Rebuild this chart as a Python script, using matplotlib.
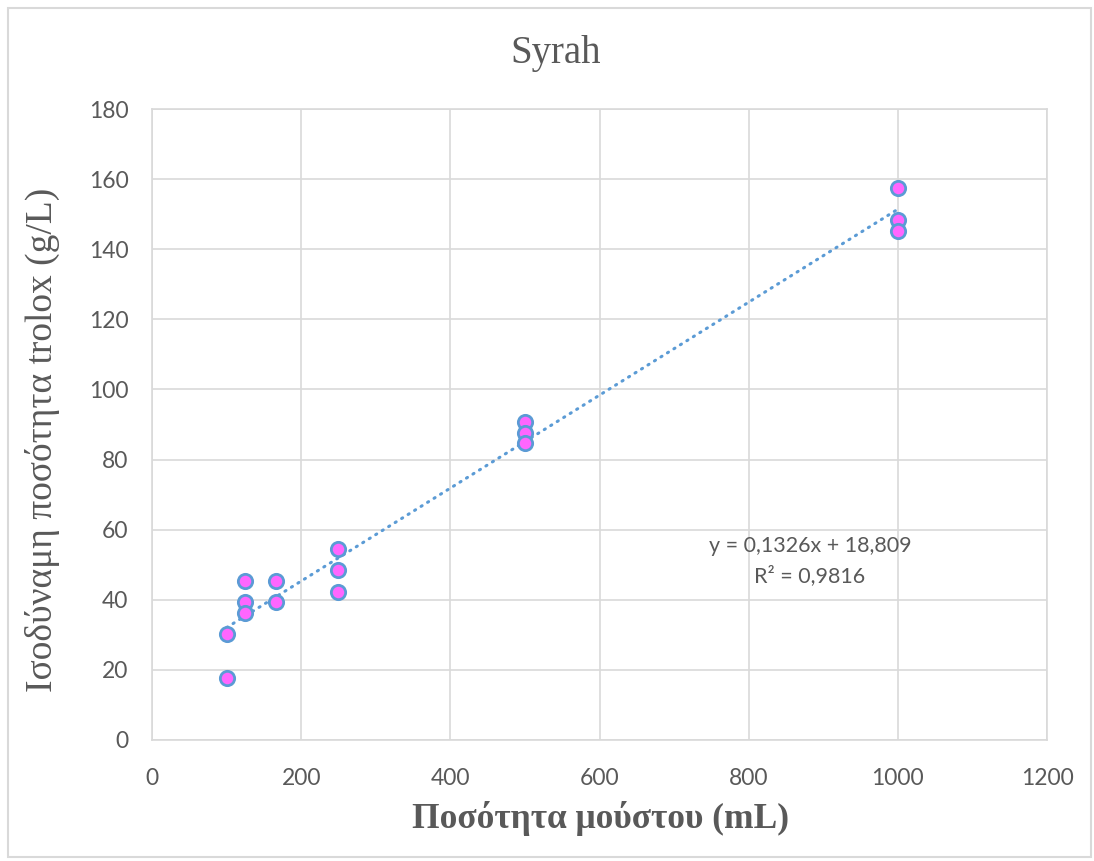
import numpy as np
import matplotlib
matplotlib.use('Agg')
import matplotlib.pyplot as plt
from matplotlib.patches import Rectangle

# Μετρήσεις Syrah: ποσότητα μούστου (mL) και ισοδύναμη ποσότητα trolox (g/L)
mousto = [100, 100, 125, 125, 125, 166.7, 166.7, 250, 250, 250,
          500, 500, 500, 1000, 1000, 1000]
trolox = [30.2, 17.7, 45.4, 39.4, 36.2, 45.4, 39.4, 54.5, 48.5, 42.2,
          90.7, 87.6, 84.7, 157.5, 148.3, 145.2]

# γραμμή τάσης όπως τη δίνει η εξίσωση
klisi = 0.1326
tomi = 18.809
r2 = 0.9816

xticks = [0, 200, 400, 600, 800, 1000, 1200]
yticks = [0, 20, 40, 60, 80, 100, 120, 140, 160, 180]

gkri = '#595959'
grammes = '#d9d9d9'
mple = '#5B9BD5'

fig = plt.figure(figsize=(10.94, 8.61), dpi=100)
ax = fig.add_axes([152/1094, 1 - 740/861, 895/1094, 631/861])

# πλαίσιο γύρω από το γράφημα
fig.patches.append(Rectangle((8/1094, 4/861), 1083/1094, 849/861,
                             transform=fig.transFigure, fill=False,
                             edgecolor=grammes, linewidth=1.5))

ax.set_xlim(0, 1200)
ax.set_ylim(0, 180)
ax.set_xticks(xticks)
ax.set_yticks(yticks)
ax.grid(True, color=grammes, linewidth=1.2)
ax.set_axisbelow(True)
for s in ax.spines.values():
    s.set_color(grammes)
    s.set_linewidth(1.2)
ax.tick_params(length=0, labelsize=16.5, labelcolor=gkri)
ax.tick_params(axis='y', pad=17)
ax.tick_params(axis='x', pad=20)
for lbl in ax.get_xticklabels() + ax.get_yticklabels():
    lbl.set_family('Lato')

xx = np.array([min(mousto), max(mousto)])
ax.plot(xx, klisi * xx + tomi, color=mple, linewidth=2.2,
        linestyle=(0, (0.4, 2.1)), dash_capstyle='round', zorder=2)

ax.plot(mousto, trolox, 'o', markersize=10.3, markerfacecolor='#FF66FF',
        markeredgecolor=mple, markeredgewidth=2.0, linestyle='none', zorder=3)

eq = 'y = ' + f'{klisi}'.replace('.', ',') + 'x + ' + f'{tomi}'.replace('.', ',')
eq += '\nR² = ' + f'{r2}'.replace('.', ',')
ax.text(882, 51, eq, ha='center', va='center', fontsize=15.5,
        family='Lato', color=gkri, linespacing=1.55)

fig.text(556/1094, 1 - 54/861, 'Syrah', ha='center', va='center',
         fontsize=28, family='Liberation Serif', color=gkri)
fig.text(42/1094, 1 - 440/861, 'Ισοδύναμη ποσότητα trolox (g/L)',
         ha='center', va='center', rotation=90, fontsize=27,
         family='Liberation Serif', color=gkri)
fig.text(600/1094, 1 - 819/861, 'Ποσότητα μούστου (mL)', ha='center',
         va='center', fontsize=25.5, family='Liberation Serif',
         fontweight='bold', color=gkri)

fig.savefig('out.png', dpi=100)
